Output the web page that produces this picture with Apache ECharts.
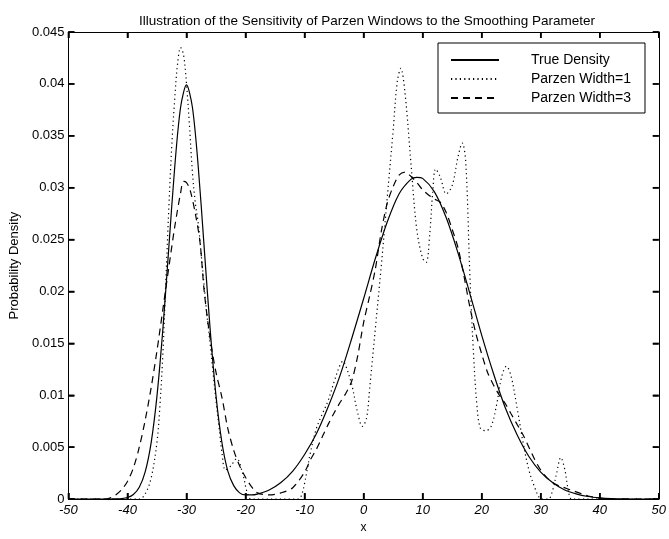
<!DOCTYPE html>
<html>
<head>
<meta charset="utf-8">
<script src="https://cdn.jsdelivr.net/npm/echarts@6/dist/echarts.min.js"></script>
<style>
  html, body { margin: 0; padding: 0; background: #fff; }
  #chart { width: 669px; height: 539px; }
</style>
</head>
<body>
<div id="chart"></div>
<script>
// Axis ticks
const xTicks = [-50, -40, -30, -20, -10, 0, 10, 20, 30, 40, 50];
const yTicks = [0, 0.005, 0.01, 0.015, 0.02, 0.025, 0.03, 0.035, 0.04, 0.045];

// True mixture density
const trueX = [-50, -45, -43, -42, -41, -40, -39, -38, -37, -36, -35, -34, -33, -32, -31, -30, -29, -28, -27, -26, -25, -24, -23, -22, -21, -20, -19, -18, -16, -14, -12, -10, -8, -6, -4, -2, 0, 2, 4, 6, 8, 9, 10, 12, 14, 16, 18, 20, 22, 24, 26, 28, 30, 32, 34, 36, 38, 40, 42, 44, 46, 50];
const trueY = [0, 0, 0, 0.00002, 0.00005, 0.00015, 0.00044, 0.00114, 0.00262, 0.0054, 0.00995, 0.0164, 0.0242, 0.03195, 0.03775, 0.0399, 0.03775, 0.03195, 0.0242, 0.0164, 0.00995, 0.00545, 0.0027, 0.0013, 0.0006, 0.0004, 0.0004, 0.00048, 0.00088, 0.0016, 0.0027, 0.0043, 0.0063, 0.0089, 0.0119, 0.0155, 0.0193, 0.0232, 0.0267, 0.0294, 0.0308, 0.031, 0.0309, 0.0296, 0.0271, 0.0237, 0.0198, 0.0158, 0.0121, 0.0088, 0.0062, 0.0041, 0.0026, 0.0016, 0.0009, 0.0005, 0.00025, 0.00012, 0.00005, 0.00002, 0, 0];

// Parzen estimate, window width 1
const p1X = [-50, -38, -37, -36, -35, -34.5, -34, -33.5, -33, -32.5, -32, -31.5, -31, -30.5, -30, -29.5, -29, -28.5, -28, -27.5, -27, -26.5, -26, -25.5, -25, -24.5, -24, -23.4, -22.5, -21.5, -20.5, -19.7, -19, -11, -10.5, -10, -9.5, -9, -8, -7, -6, -5, -4, -3.5, -3, -2, -1, -0.2, 0.5, 1, 2, 3, 4, 5, 5.7, 6.3, 7, 8, 9, 10, 10.6, 11.2, 11.7, 12.2, 13, 14, 15, 16, 16.7, 17.3, 18, 18.6, 19.2, 19.8, 20.7, 21.6, 22.5, 23.4, 24.2, 25, 26, 27, 28, 29, 29.7, 30.2, 31.3, 32, 32.7, 33.4, 34.1, 34.7, 35.3, 50];
const p1Y = [0, 0, 0.0005, 0.002, 0.0055, 0.009, 0.014, 0.021, 0.028, 0.034, 0.0385, 0.042, 0.0435, 0.0428, 0.04, 0.036, 0.0315, 0.0285, 0.0265, 0.0235, 0.0205, 0.0175, 0.015, 0.0122, 0.0095, 0.007, 0.0045, 0.0028, 0.0032, 0.0039, 0.0025, 0.0006, 0, 0, 0.0004, 0.0015, 0.003, 0.0045, 0.0068, 0.0082, 0.0095, 0.0113, 0.0129, 0.0133, 0.0128, 0.011, 0.0083, 0.007, 0.0078, 0.0105, 0.0165, 0.0225, 0.029, 0.0355, 0.0402, 0.0415, 0.0392, 0.0325, 0.026, 0.0232, 0.0228, 0.0255, 0.0295, 0.0318, 0.031, 0.0294, 0.0302, 0.033, 0.0343, 0.0325, 0.0216, 0.0142, 0.009, 0.0068, 0.0066, 0.007, 0.009, 0.0118, 0.0128, 0.0118, 0.0088, 0.0055, 0.0028, 0.0011, 0.0002, 0, 0, 0.0008, 0.0025, 0.004, 0.0028, 0.0008, 0, 0];

// Parzen estimate, window width 3
const p3X = [-50, -44, -43, -42, -41, -40, -39, -38, -37, -36, -35, -34, -33, -32, -31, -30.5, -30, -29.4, -28.5, -27.7, -27, -26, -25, -24, -23, -22, -21, -20, -19, -18, -16, -14, -12, -10, -9, -8, -7, -6, -5, -4, -3, -2, -1, 0, 1, 2, 3, 4, 5, 6, 7, 8, 9, 10, 11, 12, 13, 14, 15, 16, 17, 18, 19, 20, 21, 22, 23, 24, 25, 26, 27, 28, 29, 30, 31, 32, 33, 34, 35, 36, 37, 38, 39, 40, 42, 50];
const p3Y = [0, 0, 0.0001, 0.0004, 0.0009, 0.0017, 0.003, 0.005, 0.0076, 0.0107, 0.0143, 0.0183, 0.0223, 0.0262, 0.0295, 0.0306, 0.0305, 0.0298, 0.0275, 0.0247, 0.02, 0.0155, 0.0122, 0.0098, 0.0068, 0.0047, 0.0032, 0.0021, 0.0012, 0.0006, 0.0004, 0.0006, 0.0011, 0.0026, 0.0038, 0.0048, 0.006, 0.0072, 0.0083, 0.0093, 0.0102, 0.0114, 0.0138, 0.017, 0.0195, 0.0222, 0.0258, 0.0285, 0.0301, 0.0312, 0.0315, 0.0311, 0.0305, 0.0298, 0.0293, 0.0289, 0.0286, 0.0276, 0.026, 0.0242, 0.0215, 0.0185, 0.016, 0.014, 0.0122, 0.011, 0.01, 0.0092, 0.0082, 0.0072, 0.0062, 0.005, 0.0038, 0.0028, 0.0021, 0.0016, 0.0013, 0.0011, 0.0009, 0.0007, 0.0005, 0.0003, 0.0002, 0.0001, 0, 0];

const zip = (xs, ys) => xs.map((x, i) => [x, ys[i]]);
const FONT = '"Liberation Sans", Arial, Helvetica, sans-serif';
const yFmt = v => (+v).toFixed(3).replace(/0+$/, '').replace(/\.$/, '');
const X_MIN = xTicks[0], X_MAX = xTicks[xTicks.length - 1];
const Y_MIN = yTicks[0], Y_MAX = yTicks[yTicks.length - 1];
const TICK_LEN = 6;
const TICK_W = 1.5;

const chart = echarts.init(document.getElementById('chart'), null, { renderer: 'canvas' });

const axisLineStyle = () => ({ show: true, onZero: false, lineStyle: { color: '#000', width: 1 } });
const innerTick = () => ({ show: true, inside: true, length: TICK_LEN, lineStyle: { color: '#000', width: TICK_W } });

chart.setOption({
  backgroundColor: '#fff',
  animation: false,
  title: {
    text: 'Illustration of the Sensitivity of Parzen Windows to the Smoothing Parameter',
    left: 362, top: 9, textAlign: 'center',
    textStyle: { fontFamily: FONT, fontSize: 13.5, fontWeight: 'normal', color: '#000' }
  },
  grid: { left: 64, right: 8, top: 32, bottom: 30, containLabel: false },
  legend: {
    show: true,
    orient: 'vertical', left: 438, top: 43,
    backgroundColor: '#fff', borderColor: '#000', borderWidth: 1,
    padding: [10, 14, 8, 12], itemGap: 5,
    itemWidth: 48, itemHeight: 14,
    itemStyle: { opacity: 0 },
    textStyle: { fontFamily: FONT, fontSize: 14, color: '#000', padding: [0, 0, 0, 27] },
    data: ['True Density', 'Parzen Width=1', 'Parzen Width=3']
  },
  xAxis: [
    {
      type: 'value', position: 'bottom', min: X_MIN, max: X_MAX, interval: 10,
      axisLine: axisLineStyle(), axisTick: innerTick(), splitLine: { show: false },
      axisLabel: { color: '#000', fontFamily: FONT, fontSize: 13, fontStyle: 'italic', margin: 5 },
      name: 'x', nameLocation: 'middle', nameGap: 19,
      nameTextStyle: { color: '#000', fontFamily: FONT, fontSize: 12 }
    },
    {
      type: 'value', position: 'top', min: X_MIN, max: X_MAX, interval: 10,
      axisLine: axisLineStyle(), axisTick: innerTick(), axisLabel: { show: false }, splitLine: { show: false }
    }
  ],
  yAxis: [
    {
      type: 'value', position: 'left', min: Y_MIN, max: Y_MAX, interval: 0.005,
      axisLine: axisLineStyle(), axisTick: innerTick(), splitLine: { show: false },
      axisLabel: { color: '#000', fontFamily: FONT, fontSize: 13, margin: 4, formatter: yFmt },
      name: 'Probability Density', nameLocation: 'middle', nameGap: 46, nameRotate: 90,
      nameTextStyle: { color: '#000', fontFamily: FONT, fontSize: 13 }
    },
    {
      type: 'value', position: 'right', min: Y_MIN, max: Y_MAX, interval: 0.005,
      axisLine: axisLineStyle(), axisTick: innerTick(), axisLabel: { show: false }, splitLine: { show: false }
    }
  ],
  series: [
    {
      name: 'True Density', type: 'line', data: zip(trueX, trueY), smooth: 0.3,
      showSymbol: false, symbol: 'none',
      lineStyle: { color: '#000', width: 1.2, type: 'solid' }, itemStyle: { color: '#000' }
    },
    {
      name: 'Parzen Width=1', type: 'line', data: zip(p1X, p1Y), smooth: 0.35,
      showSymbol: false, symbol: 'none',
      lineStyle: { color: '#000', width: 1.2, type: [1.2, 3.2] }, itemStyle: { color: '#000' }
    },
    {
      name: 'Parzen Width=3', type: 'line', data: zip(p3X, p3Y), smooth: 0.3,
      showSymbol: false, symbol: 'none',
      lineStyle: { color: '#000', width: 1.2, type: [7, 5] }, itemStyle: { color: '#000' }
    }
  ]
});

// Inward tick marks on all four sides of the box, placed through the grid's own scales
try {
  const toPx = (x, y) => chart.convertToPixel({ gridIndex: 0 }, [x, y]);
  const tickEls = [];
  const addTick = (x1, y1, x2, y2) => tickEls.push({
    type: 'line', z: 100, silent: true,
    shape: { x1, y1, x2, y2 },
    style: { stroke: '#000', lineWidth: TICK_W }
  });
  xTicks.forEach(v => {
    const b = toPx(v, Y_MIN), t = toPx(v, Y_MAX);
    addTick(b[0], b[1], b[0], b[1] - TICK_LEN);
    addTick(t[0], t[1], t[0], t[1] + TICK_LEN);
  });
  yTicks.forEach(v => {
    const l = toPx(X_MIN, v), r = toPx(X_MAX, v);
    addTick(l[0], l[1], l[0] + TICK_LEN, l[1]);
    addTick(r[0], r[1], r[0] - TICK_LEN, r[1]);
  });
  chart.setOption({ graphic: tickEls });
} catch (e) {
  console.error(e);
}
</script>
</body>
</html>
